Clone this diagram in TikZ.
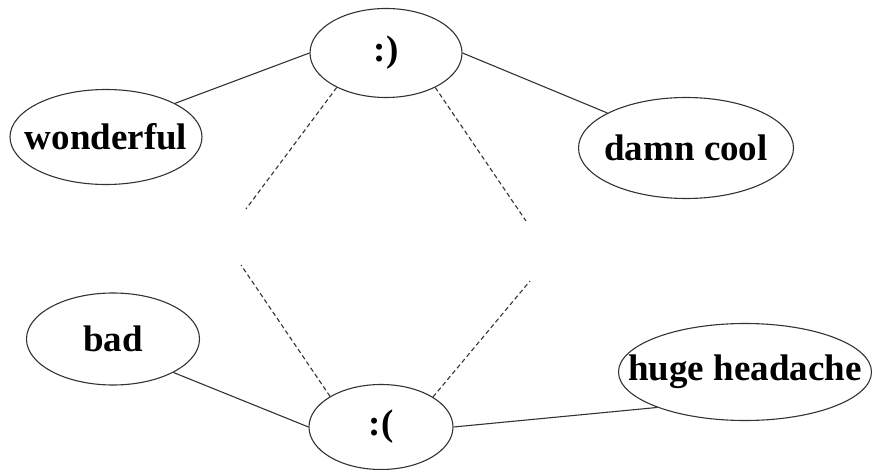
\documentclass[tikz,border=0pt]{standalone}
\usepackage{fontspec}
\setmainfont{Liberation Serif}
\usetikzlibrary{shapes.geometric}
\begin{document}
\begin{tikzpicture}[x=1pt,y=-1pt,
  oval/.style={draw=black!80, line width=1.1pt, ellipse, inner sep=0pt},
  lbl/.style={font=\fontsize{37}{40}\selectfont\bfseries, text=black, inner sep=0pt},
  link/.style={draw=black!80, line width=1.1pt},
  dlink/.style={draw=black!80, line width=1.1pt, dash pattern=on 4.5pt off 3pt}]
\useasboundingbox (0,0) rectangle (872,470);
\node[oval, minimum width=152pt, minimum height=89pt] (smile) at (386,53) {};
\node[lbl] at (smile.center) {:)};
\node[oval, minimum width=192pt, minimum height=95pt] (won) at (106,137) {};
\node[lbl] at (won.center) {wonderful};
\node[oval, minimum width=215pt, minimum height=101pt] (cool) at (686,148) {};
\node[lbl] at (cool.center) {damn cool};
\node[oval, minimum width=173pt, minimum height=92pt] (bad) at (113,339) {};
\node[lbl] at (bad.center) {bad};
\node[oval, minimum width=144pt, minimum height=85pt] (frown) at (381,427) {};
\node[lbl] at (frown.center) {:(};
\node[oval, minimum width=253pt, minimum height=97pt] (hh) at (745,372) {};
\node[lbl] at (hh.center) {huge headache};
\coordinate (d1) at (246,209);
\coordinate (d2) at (526,221);
\coordinate (d3) at (241,265);
\coordinate (d4) at (530,281);
\draw[link] (won.26) -- (smile.west);
\draw[link] (smile.east) -- (cool.156);
\draw[link] (bad.-29) -- (frown.west);
\draw[link] (frown.east) -- (hh.-158);
\draw[dlink] (smile.-145) -- (d1);
\draw[dlink] (smile.-35) -- (d2);
\draw[dlink] (frown.149) -- (d3);
\draw[dlink] (frown.30) -- (d4);
\end{tikzpicture}
\end{document}
